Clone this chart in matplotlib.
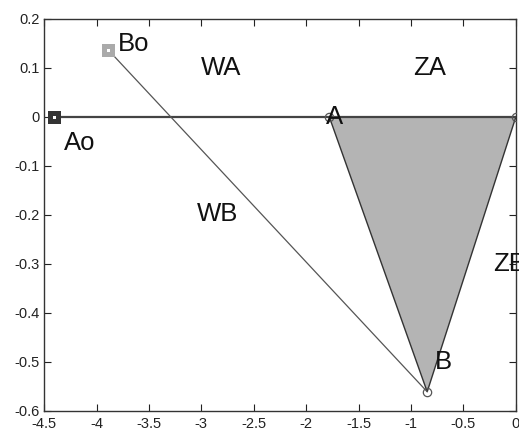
import matplotlib
matplotlib.use('Agg')
import matplotlib.pyplot as plt

plt.rcParams['font.family'] = ['Liberation Sans', 'DejaVu Sans']

# Joint positions
ao = (-4.41, 0.0)
bo = (-3.89, 0.137)
pt_a = (-1.78, 0.0)
pt_c = (0.0, 0.0)
pt_b = (-0.846, -0.561)

# Region / joint labels (text, x, y)
labels = [
    ('WA', -3.0, 0.1), ('ZA', -0.98, 0.1),
    ('WB', -3.04, -0.198), ('ZB', -0.22, -0.30),
    ('Ao', -4.31, -0.053), ('Bo', -3.80, 0.149),
    ('A', -1.81, 0.0), ('B', -0.77, -0.50), ('P', 0.02, 0.0),
]

xticks = [-4.5, -4, -3.5, -3, -2.5, -2, -1.5, -1, -0.5, 0]
yticks = [0.2, 0.1, 0, -0.1, -0.2, -0.3, -0.4, -0.5, -0.6]

fig = plt.figure(figsize=(5.19, 4.28), dpi=100)
ax = fig.add_axes([0.085, 0.04, 0.909, 0.916])

# Shaded triangle
ax.fill([pt_a[0], pt_c[0], pt_b[0]], [pt_a[1], pt_c[1], pt_b[1]],
        facecolor='#b4b4b4', edgecolor='#333333', linewidth=1.0, zorder=1)

# Ground line and link
ax.plot([ao[0], pt_c[0]], [ao[1], pt_c[1]], color='#444444', lw=1.6, zorder=2)
ax.plot([bo[0], pt_b[0]], [bo[1], pt_b[1]], color='#555555', lw=0.9, zorder=2)

# Markers
ax.plot(*ao, marker='s', ms=5.5, mfc='white', mec='#333333', mew=3.6, zorder=3)
ax.plot(*bo, marker='s', ms=5.5, mfc='white', mec='#aaaaaa', mew=3.6, zorder=3)
for p in (pt_a, pt_c, pt_b):
    ax.plot(*p, marker='o', ms=6, mfc='none', mec='#555555', mew=0.9, zorder=3)

for txt, x, y in labels:
    ax.text(x, y, txt, fontsize=18.5, ha='left', va='center', color='#111111')

ax.set_xlim(-4.5, 0)
ax.set_ylim(-0.6, 0.2)
ax.set_xticks(xticks)
ax.set_xticklabels([f'{t:g}' for t in xticks])
ax.set_yticks(yticks)
ax.set_yticklabels([f'{t:g}' for t in yticks])
ax.tick_params(direction='in', top=True, right=True, length=5,
               labelsize=10.5, colors='#222222', pad=3)
ax.tick_params(axis='x', pad=4.5)
for s in ax.spines.values():
    s.set_color('#333333')
    s.set_linewidth(1.0)

fig.savefig('out.png', dpi=100)
